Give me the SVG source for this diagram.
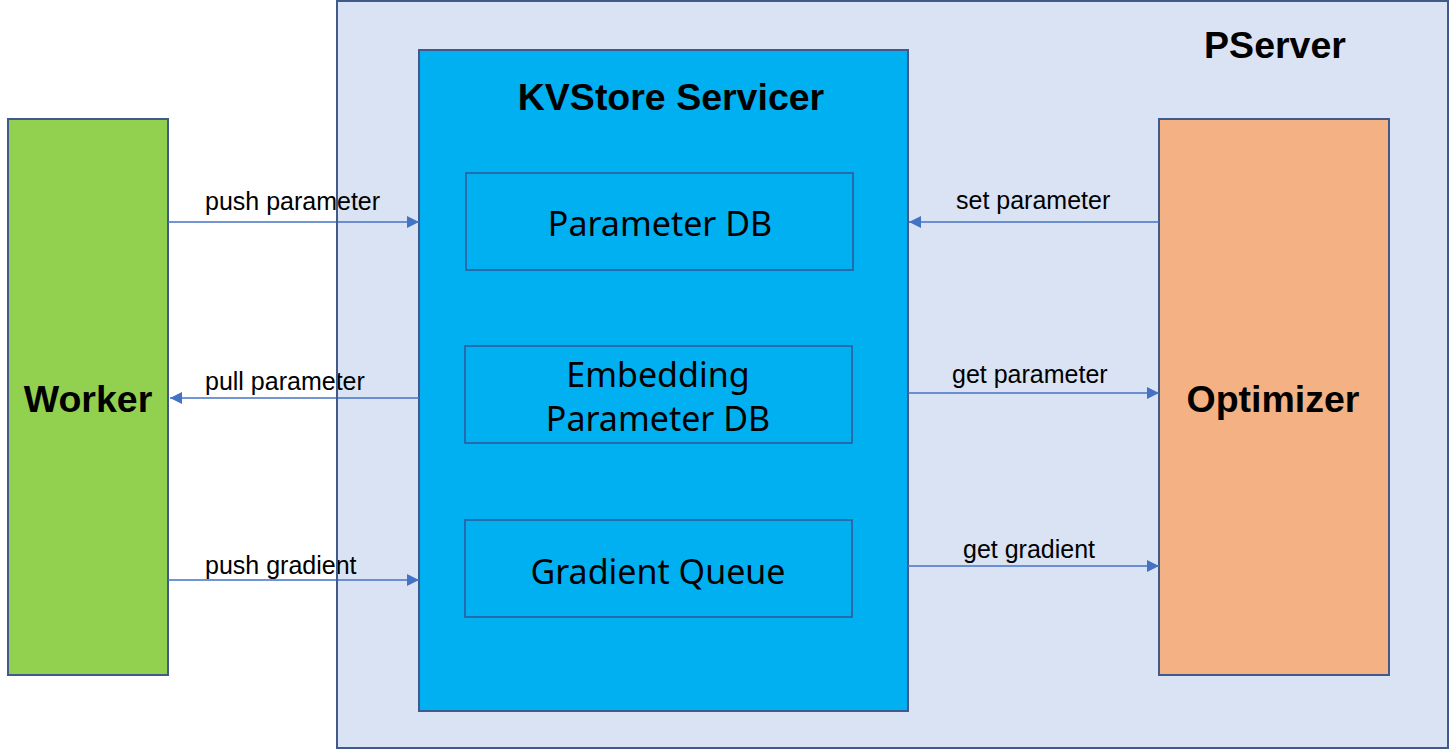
<svg xmlns="http://www.w3.org/2000/svg" width="1450" height="750" viewBox="0 0 1450 750">
<defs>
<marker id="ah" viewBox="0 0 10 10" refX="10" refY="5" markerWidth="12" markerHeight="12" markerUnits="userSpaceOnUse" orient="auto">
<path d="M0,0 L10,5 L0,10 z" fill="#4472c4"/>
</marker>
<style>
.box{stroke:#41598b;stroke-width:2}
.inner{fill:#00b0f0;stroke:#2f5597;stroke-width:1.5}
.title{font-family:"Liberation Sans",Arial,sans-serif;font-weight:bold;font-size:37.5px;fill:#000}
.lbl{font-family:"Liberation Sans",Arial,sans-serif;font-size:25px;fill:#000}
.itxt{font-family:"Noto Sans","Open Sans",sans-serif;font-size:34px;fill:#000}
.conn{stroke:#4472c4;stroke-width:1.3;fill:none;marker-end:url(#ah)}
</style>
</defs>
<rect width="1450" height="750" fill="#fff"/>
<g id="pserver">
<rect class="box" x="337" y="1" width="1111" height="747" fill="#dae3f3"/>
<text class="title" x="1275" y="58" text-anchor="middle">PServer</text>
</g>
<g id="worker">
<rect class="box" x="8" y="119" width="160" height="556" fill="#92d050"/>
<text class="title" x="88" y="412" text-anchor="middle">Worker</text>
</g>
<g id="optimizer">
<rect class="box" x="1159" y="119" width="230" height="556" fill="#f4b183"/>
<text class="title" x="1273" y="412" text-anchor="middle">Optimizer</text>
</g>
<g id="kvstore">
<rect class="box" x="419" y="50" width="489" height="661" fill="#00b0f0"/>
<text class="title" x="671" y="110" text-anchor="middle">KVStore Servicer</text>
</g>
<g id="paramdb">
<rect class="inner" x="466" y="173" width="387" height="97"/>
<text class="itxt" x="660" y="236" text-anchor="middle">Parameter DB</text>
</g>
<g id="embdb">
<rect class="inner" x="465" y="346" width="387" height="97"/>
<text class="itxt" x="658" y="387" text-anchor="middle">Embedding</text>
<text class="itxt" x="658" y="431" text-anchor="middle">Parameter DB</text>
</g>
<g id="gradq">
<rect class="inner" x="465" y="520" width="387" height="97"/>
<text class="itxt" x="658" y="584" text-anchor="middle">Gradient Queue</text>
</g>
<g id="connectors">
<line class="conn" x1="168" y1="222" x2="419" y2="222"/>
<line class="conn" x1="419" y1="398" x2="170" y2="398"/>
<line class="conn" x1="168" y1="580" x2="419" y2="580"/>
<line class="conn" x1="1159" y1="222" x2="909" y2="222"/>
<line class="conn" x1="908" y1="393" x2="1159" y2="393"/>
<line class="conn" x1="908" y1="566" x2="1159" y2="566"/>
<text class="lbl" x="205" y="210">push parameter</text>
<text class="lbl" x="205" y="390">pull parameter</text>
<text class="lbl" x="205" y="574">push gradient</text>
<text class="lbl" x="956" y="209">set parameter</text>
<text class="lbl" x="952" y="383">get parameter</text>
<text class="lbl" x="963" y="558">get gradient</text>
</g>
<line x1="337" y1="150" x2="337" y2="650" stroke="#41598b" stroke-width="2"/>
</svg>
